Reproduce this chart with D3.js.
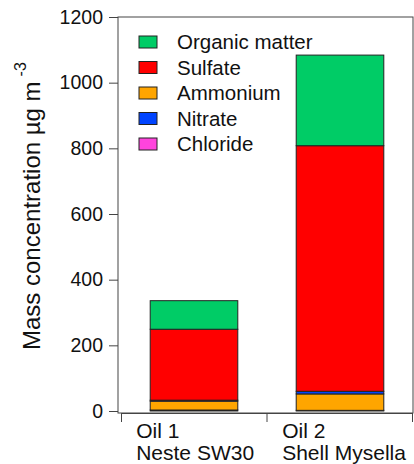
<!DOCTYPE html>
<html>
<head>
<meta charset="utf-8">
<script src="https://cdn.jsdelivr.net/npm/d3@7"></script>
<style>
  body { margin: 0; background: #fff; }
  text { font-family: "Liberation Sans", Arial, sans-serif; fill: #111; }
</style>
</head>
<body>
<div id="wrapper"></div>
<script>
// values (µg m-3)
const oils = ["Oil 1", "Oil 2"];
const oilNames = ["Neste SW30", "Shell Mysella"];
const organic = [87, 276];
const sulfate = [216, 748];
const ammonium = [27, 50];
const nitrate = [3, 8];
const chloride = [3, 2];
const yTicks = [0, 200, 400, 600, 800, 1000, 1200];

const legendKeys = ["Organic matter", "Sulfate", "Ammonium", "Nitrate", "Chloride"];
const colors = {
    "Organic matter": "#00cc66",
    "Sulfate": "#ff0000",
    "Ammonium": "#ffa500",
    "Nitrate": "#0044ff",
    "Chloride": "#ff44dd"
};
// stacking order bottom -> top as in the figure
const stackKeys = ["Chloride", "Ammonium", "Nitrate", "Sulfate", "Organic matter"];

const table = oils.map((o, i) => ({
    oil: o,
    "Organic matter": organic[i],
    "Sulfate": sulfate[i],
    "Ammonium": ammonium[i],
    "Nitrate": nitrate[i],
    "Chloride": chloride[i]
}));

var dimension = {
    width: 414,
    height: 464,
    margin: { top: 17, right: 1, bottom: 53, left: 118 }
};

const svg = d3.select("#wrapper")
    .append("svg")
    .attr("width", dimension.width)
    .attr("height", dimension.height);

const y = d3.scaleLinear()
    .domain([0, 1200])
    .range([411, dimension.margin.top]);

const x = d3.scaleBand()
    .domain(oils)
    .range([121, 413])
    .paddingInner(0.4)
    .paddingOuter(0.2);

const xEdge = d3.scaleLinear()
    .domain([0, oils.length])
    .range([121, 412]);

// frame
svg.append("rect")
    .attr("x", dimension.margin.left)
    .attr("y", dimension.margin.top)
    .attr("width", 413 - dimension.margin.left)
    .attr("height", 413 - dimension.margin.top)
    .attr("fill", "none")
    .attr("stroke", "#444")
    .attr("stroke-width", 1);

// stacked bars
const series = d3.stack().keys(stackKeys)(table);

svg.append("g")
    .selectAll("g")
    .data(series)
    .enter()
    .append("g")
    .attr("fill", d => colors[d.key])
    .selectAll("rect")
    .data(d => d)
    .enter()
    .append("rect")
    .attr("x", d => x(d.data.oil))
    .attr("width", x.bandwidth())
    .attr("y", d => y(d[1]))
    .attr("height", d => y(d[0]) - y(d[1]))
    .attr("stroke", "#222")
    .attr("stroke-width", 1);

// y axis
const yAxis = svg.append("g")
    .attr("transform", `translate(${dimension.margin.left},0)`)
    .call(d3.axisLeft(y).tickValues(yTicks).tickFormat(d3.format("d"))
        .tickSize(9).tickPadding(6).tickSizeOuter(0));
yAxis.select(".domain").remove();
yAxis.selectAll("line").attr("stroke", "#444");
yAxis.selectAll("text")
    .style("font-size", "19.5px")
    .style("font-family", "Liberation Sans, Arial, sans-serif")
    .attr("fill", "#111");

// x axis: ticks at category boundaries
const xAxis = svg.append("g")
    .attr("transform", "translate(0,413)")
    .call(d3.axisBottom(xEdge).tickValues(d3.range(oils.length + 1)).tickSize(9).tickFormat("").tickSizeOuter(0));
xAxis.select(".domain").attr("stroke", "#444");
xAxis.selectAll("line").attr("stroke", "#444");

// category labels
const catLabels = svg.append("g")
    .selectAll("text")
    .data(oils)
    .enter()
    .append("text")
    .attr("x", d => x(d) - 14)
    .attr("y", 438)
    .style("font-size", "21px")
    .style("text-anchor", "start");
catLabels.append("tspan").text(d => d);
catLabels.append("tspan")
    .attr("x", d => x(d) - 14)
    .attr("dy", 22)
    .text((d, i) => oilNames[i]);

// y title
const title = svg.append("text")
    .attr("transform", "translate(40,350) rotate(-90)")
    .style("font-size", "24px")
    .style("text-anchor", "start");
title.append("tspan").text("Mass concentration µg m");
title.append("tspan")
    .attr("dx", 5)
    .attr("dy", -14)
    .style("font-size", "16px")
    .text("-3");

// legend
const legend = svg.append("g")
    .selectAll("g")
    .data(legendKeys)
    .enter()
    .append("g")
    .attr("transform", (d, i) => `translate(139,${42 + i * 25.5})`);

legend.append("rect")
    .attr("x", 0)
    .attr("y", -6)
    .attr("width", 18)
    .attr("height", 12)
    .attr("fill", d => colors[d])
    .attr("stroke", "#222")
    .attr("stroke-width", 1);

legend.append("text")
    .attr("x", 38)
    .attr("dy", "0.36em")
    .style("font-size", "20.5px")
    .text(d => d);
</script>
</body>
</html>
